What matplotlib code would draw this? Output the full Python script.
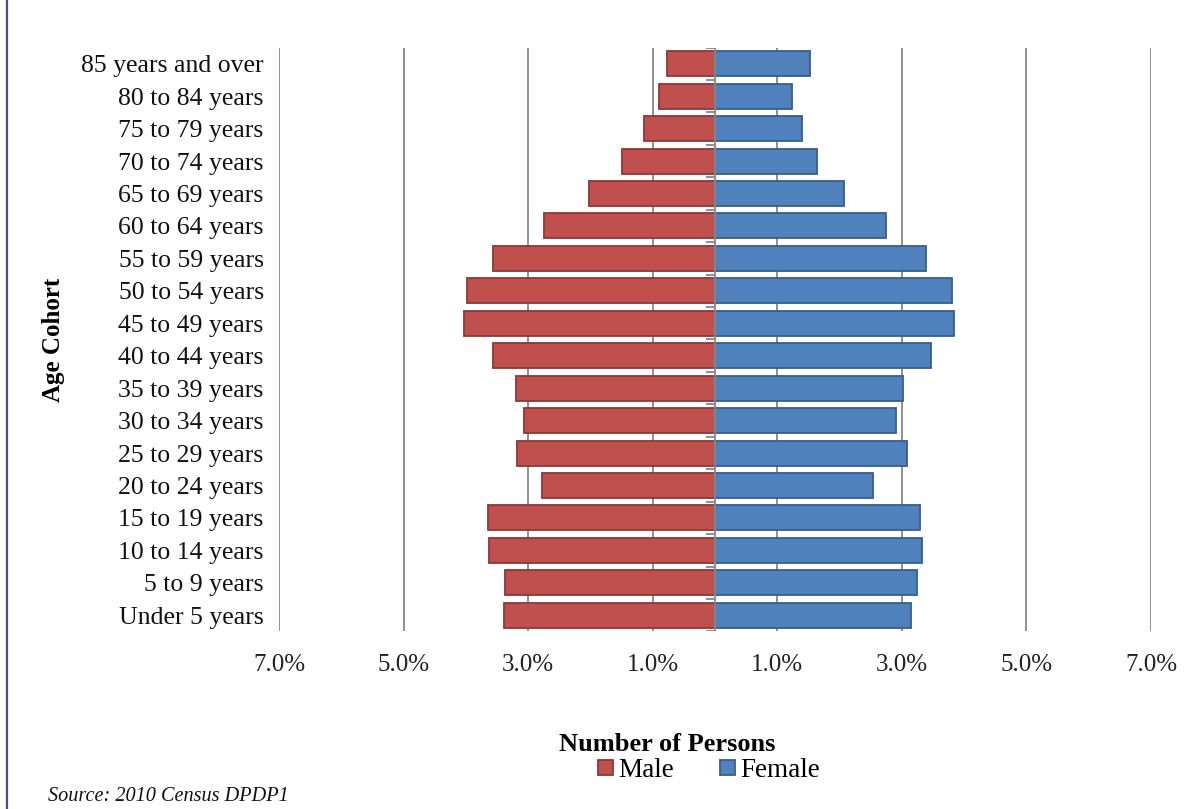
import matplotlib

matplotlib.use("Agg")
import matplotlib.lines as mlines
import matplotlib.patches as mpatches
import matplotlib.pyplot as plt
import numpy as np
from matplotlib.ticker import FuncFormatter

plt.rcParams["font.family"] = ["Liberation Serif", "DejaVu Serif"]

AGE_GROUPS = [
    "Under 5 years", "5 to 9 years", "10 to 14 years", "15 to 19 years",
    "20 to 24 years", "25 to 29 years", "30 to 34 years", "35 to 39 years",
    "40 to 44 years", "45 to 49 years", "50 to 54 years", "55 to 59 years",
    "60 to 64 years", "65 to 69 years", "70 to 74 years", "75 to 79 years",
    "80 to 84 years", "85 years and over",
]
# percent of total population, same order as AGE_GROUPS
MALE_PCT = [3.39, 3.37, 3.63, 3.64, 2.78, 3.18, 3.07, 3.19, 3.56,
            4.03, 3.98, 3.56, 2.74, 2.02, 1.49, 1.14, 0.90, 0.77]
FEMALE_PCT = [3.15, 3.24, 3.32, 3.29, 2.54, 3.08, 2.91, 3.02, 3.47,
              3.84, 3.80, 3.39, 2.74, 2.07, 1.64, 1.40, 1.24, 1.52]
GRID_TICKS = [-7, -5, -3, -1, 1, 3, 5, 7]

MALE_FILL, MALE_EDGE = "#C0504D", "#8C3836"
FEMALE_FILL, FEMALE_EDGE = "#4F81BD", "#385D8A"
GRID_COLOR = "#878787"

fig = plt.figure(figsize=(12.02, 8.09), dpi=100)
ax = fig.add_axes([0.2321, 0.2195, 0.7255, 0.7217])

y = np.arange(len(AGE_GROUPS))
male = -np.array(MALE_PCT)
female = np.array(FEMALE_PCT)

ax.barh(y, male, height=0.77, color=MALE_FILL, edgecolor=MALE_EDGE, linewidth=1.3, zorder=2)
ax.barh(y, female, height=0.77, color=FEMALE_FILL, edgecolor=FEMALE_EDGE, linewidth=1.3, zorder=2)

ax.set_xlim(-7, 7)
ax.set_ylim(-0.5, len(AGE_GROUPS) - 0.5)
ax.set_xticks(GRID_TICKS)
ax.xaxis.set_major_formatter(FuncFormatter(lambda v, _: f"{abs(v):.1f}%"))
ax.set_yticks(y)
ax.set_yticklabels(AGE_GROUPS)
ax.tick_params(axis="y", length=0, pad=11, labelsize=18.5, labelcolor="#111111")
ax.tick_params(axis="x", length=0, pad=16, labelsize=18, labelcolor="#222222")

ax.set_axisbelow(True)
ax.grid(axis="x", color=GRID_COLOR, linewidth=1.3)
for side in ("left", "right", "top", "bottom"):
    ax.spines[side].set_visible(False)

# category axis on zero, with small tick marks between the age groups
ax.axvline(0, color=GRID_COLOR, linewidth=1.3, zorder=3)
boundaries = np.arange(-0.5, len(AGE_GROUPS), 1.0)
ax.hlines(boundaries, -0.14, 0, color=GRID_COLOR, linewidth=1.3, zorder=3)

ax.set_ylabel("Age Cohort", fontsize=18, fontweight="bold")
ax.yaxis.set_label_coords(-0.245, 0.5)

fig.text(0.5553, 0.0795, "Number of Persons", ha="center", va="center",
         fontsize=19, fontweight="bold")

handles = [
    mpatches.Patch(facecolor=MALE_FILL, edgecolor=MALE_EDGE, linewidth=1.3, label="Male"),
    mpatches.Patch(facecolor=FEMALE_FILL, edgecolor=FEMALE_EDGE, linewidth=1.3, label="Female"),
]
fig.legend(handles=handles, loc="center", bbox_to_anchor=(0.5899, 0.0475), ncol=2,
           frameon=False, fontsize=19.5, handlelength=0.55, handleheight=0.5,
           handletextpad=0.2, columnspacing=1.7, borderpad=0)

fig.text(0.040, 0.027, "Source: 2010 Census DPDP1", ha="left", va="top",
         fontsize=14.6, style="italic", color="#111111")

# purple rule down the left edge of the page
fig.add_artist(mlines.Line2D([0.0058, 0.0058], [0, 1], transform=fig.transFigure,
                             color="#604A7B", linewidth=1.6))

fig.savefig("out.png", dpi=100)
